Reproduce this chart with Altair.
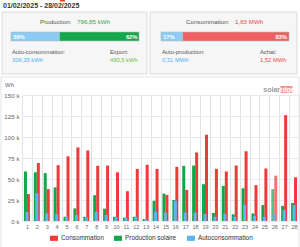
import altair as alt
import pandas as pd

# ---------------- data ----------------
days = list(range(1, 29))
consommation = [32000, 69000, 38000, 66500, 77000, 87600, 84000, 65700, 66000, 58000,
                35500, 62000, 67000, 62000, 31000, 64500, 37000, 81600, 102700, 62000,
                59000, 66000, 83000, 42600, 62500, 54000, 126000, 52000]
production = [59000, 58000, 57000, 40000, 5000, 15000, 5000, 30700, 14700, 5000,
              4000, 5000, 2400, 24000, 32600, 25000, 65700, 66000, 43800, 9600,
              41800, 8000, 39000, 9000, 19000, 38000, 18000, 21500]
autoconso = [11000, 33000, 9000, 8000, 5000, 7000, 4500, 11000, 7000, 4500,
             4000, 5000, 2400, 11000, 10000, 24000, 10000, 10000, 8400, 5000,
             8400, 5000, 19000, 6000, 5000, 8400, 13000, 19000]
series_names = ["Consommation", "Production solaire", "Autoconsommation"]
y_ticks = [0, 25000, 50000, 75000, 100000, 125000, 150000]

period_label = "01/02/2025 - 28/02/2025"
card1_segments = ["Auto-consommation", "Export"]
card1_pct = [38, 62]
card2_segments = ["Auto-production", "Achat"]
card2_pct = [17, 83]
card1_texts = ["Production:", "796,85 kWh", "Auto-consommation:", "306,35 kWh", "Export:", "490,5 kWh"]
card2_texts = ["Consommation:", "1,83 MWh", "Auto-production:", "0,31 MWh", "Achat:", "1,52 MWh"]
unit_label = "Wh"

FONT = "Liberation Sans"
OX, OY = 22, 95  # plot origin in page pixels
W, H = 277, 126

def ax(x):
    return x - OX

def ay(y):
    return y - OY

one = pd.DataFrame({"a": [0]})

def txt(s, x, y, size, color, weight="normal", align="left"):
    return alt.Chart(one).mark_text(
        text=s, fontSize=size, color=color, fontWeight=weight, align=align,
        baseline="middle", font=FONT
    ).encode(x=alt.value(ax(x)), y=alt.value(ay(y)))

def box(x1, x2, y1, y2, fill, stroke=None, sw=1, fill_opacity=1):
    kw = dict(fill=fill, fillOpacity=fill_opacity)
    if stroke:
        kw.update(stroke=stroke, strokeWidth=sw)
    return alt.Chart(one).mark_rect(**kw).encode(
        x=alt.value(ax(x1)), x2=alt.value(ax(x2)),
        y=alt.value(ay(y1)), y2=alt.value(ay(y2)))

# ---------------- bar chart ----------------
rows = []
for i, d in enumerate(days):
    rows.append({"day": d, "series": series_names[0], "wh": consommation[i]})
    rows.append({"day": d, "series": series_names[1], "wh": production[i]})
    rows.append({"day": d, "series": series_names[2], "wh": autoconso[i]})
df = pd.DataFrame(rows)

xenc = alt.X("day:O", scale=alt.Scale(domain=days, paddingInner=0, paddingOuter=0),
             axis=alt.Axis(title=None, tickBand="extent", grid=True, gridColor="#e2e2e2",
                           ticks=False, domain=False, labelAngle=0, labelFontSize=5.5,
                           labelColor="#666", labelPadding=3, labelFont=FONT))
yenc = alt.Y("wh:Q", scale=alt.Scale(domain=[0, 150000], nice=False),
             axis=alt.Axis(title=None, values=y_ticks, labelExpr="datum.value/1000 + ' k'",
                           grid=True, gridColor="#e4eaf2", ticks=False, domain=False,
                           labelFontSize=6.2, labelColor="#666", labelPadding=3, labelFont=FONT))
cenc = alt.Color("series:N",
                 scale=alt.Scale(domain=series_names, range=["#f03a3a", "#10a84a", "#5cb4f0"]),
                 legend=alt.Legend(title=None, orient="none", legendX=28, legendY=139,
                                   direction="horizontal", symbolType="M-1,-0.65H1V0.65H-1Z",
                                   symbolSize=64, symbolStrokeWidth=0, labelFontSize=6.4,
                                   labelColor="#333", labelFont=FONT, columnPadding=10,
                                   labelOffset=3))
op = alt.condition(alt.datum.day == 26, alt.value(0.7), alt.value(1))

base = alt.Chart(df)
green = base.transform_filter(alt.datum.series == series_names[1]).mark_bar(size=3, xOffset=-1.5).encode(x=xenc, y=yenc, color=cenc, opacity=op)
red = base.transform_filter(alt.datum.series == series_names[0]).mark_bar(size=3, xOffset=1.5).encode(x=xenc, y=yenc, color=cenc, opacity=op)
blue = base.transform_filter(alt.datum.series == series_names[2]).mark_bar(size=3, xOffset=0).encode(x=xenc, y=yenc, color=cenc, opacity=op)
bars = alt.layer(green, red, blue)

# ---------------- progress bars ----------------
def progress(segs, pcts, x1, x2, colors):
    d = pd.DataFrame({"seg": segs, "pct": pcts, "k": list(range(len(segs)))})
    return alt.Chart(d).transform_window(
        cum="sum(pct)", sort=[alt.SortField("k")]
    ).transform_calculate(
        start="datum.cum - datum.pct"
    ).mark_rect().encode(
        x=alt.X("start:Q", scale=alt.Scale(domain=[0, 100], range=[ax(x1), ax(x2)]), axis=None),
        x2="cum:Q",
        y=alt.value(ay(32)), y2=alt.value(ay(41)),
        color=alt.Color("seg:N", scale=alt.Scale(domain=segs, range=colors), legend=None))

prog1 = progress(card1_segments, card1_pct, 11, 139, ["#8ccbf3", "#12a84b"])
prog2 = progress(card2_segments, card2_pct, 161, 289, ["#8ccbf3", "#f06060"])

decor = [
    box(60, 65, 0, 1.5, "#e53935"),
    box(2, 147, 12, 74, "#f6f6f6", "#dcdcdc"),
    box(150, 297, 12, 74, "#f6f6f6", "#dcdcdc"),
    box(1, 299, 77, 260, "#ffffff", "#e4e4e4", 1, 0),
    txt(period_label, 3, 6, 7, "#333", "bold"),
    txt(card1_texts[0], 40, 21.5, 6.2, "#555"),
    txt(card1_texts[1], 77, 21.5, 6.2, "#3aa84a"),
    txt(card1_texts[2], 12, 51.5, 5.8, "#555"),
    txt(card1_texts[3], 12, 59.5, 5.8, "#4db3f0"),
    txt(card1_texts[4], 110, 51.5, 5.8, "#555"),
    txt(card1_texts[5], 110, 59.5, 5.8, "#6dbb45"),
    txt(card2_texts[0], 186, 21.5, 6.2, "#555"),
    txt(card2_texts[1], 235, 21.5, 6.2, "#f04848"),
    txt(card2_texts[2], 162, 51.5, 5.8, "#555"),
    txt(card2_texts[3], 162, 59.5, 5.8, "#4db3f0"),
    txt(card2_texts[4], 260, 51.5, 5.8, "#555"),
    txt(card2_texts[5], 260, 59.5, 5.8, "#f04848"),
    prog1, prog2,
    box(11, 139, 32, 41, "#ffffff", "#b8b8b8", 0.6, 0),
    box(161, 289, 32, 41, "#ffffff", "#b8b8b8", 0.6, 0),
    txt(f"{card1_pct[0]}%", 13, 36.8, 5.8, "white", "bold"),
    txt(f"{card1_pct[1]}%", 137.5, 36.8, 5.8, "white", "bold", "right"),
    txt(f"{card2_pct[0]}%", 163, 36.8, 5.8, "white", "bold"),
    txt(f"{card2_pct[1]}%", 287, 36.8, 5.8, "white", "bold", "right"),
    txt(unit_label, 5, 85, 6, "#666"),
    txt("solar", 280, 89.5, 7, "#9a9a9a", "bold", "right"),
    box(280.5, 292.5, 86, 93, "#f59393"),
    txt("edge", 286.5, 89.5, 6.3, "white", "bold", "center"),
]

chart = alt.layer(*decor, bars).resolve_scale(
    x="independent", color="independent"
).properties(
    width=W, height=H,
    autosize=alt.AutoSizeParams(type="none"),
    padding={"left": OX, "top": OY, "right": 300 - OX - W, "bottom": 247 - OY - H},
    background="white",
).configure_view(stroke=None)

chart.save("out.html", embed_options={"renderer": "svg", "actions": False})
